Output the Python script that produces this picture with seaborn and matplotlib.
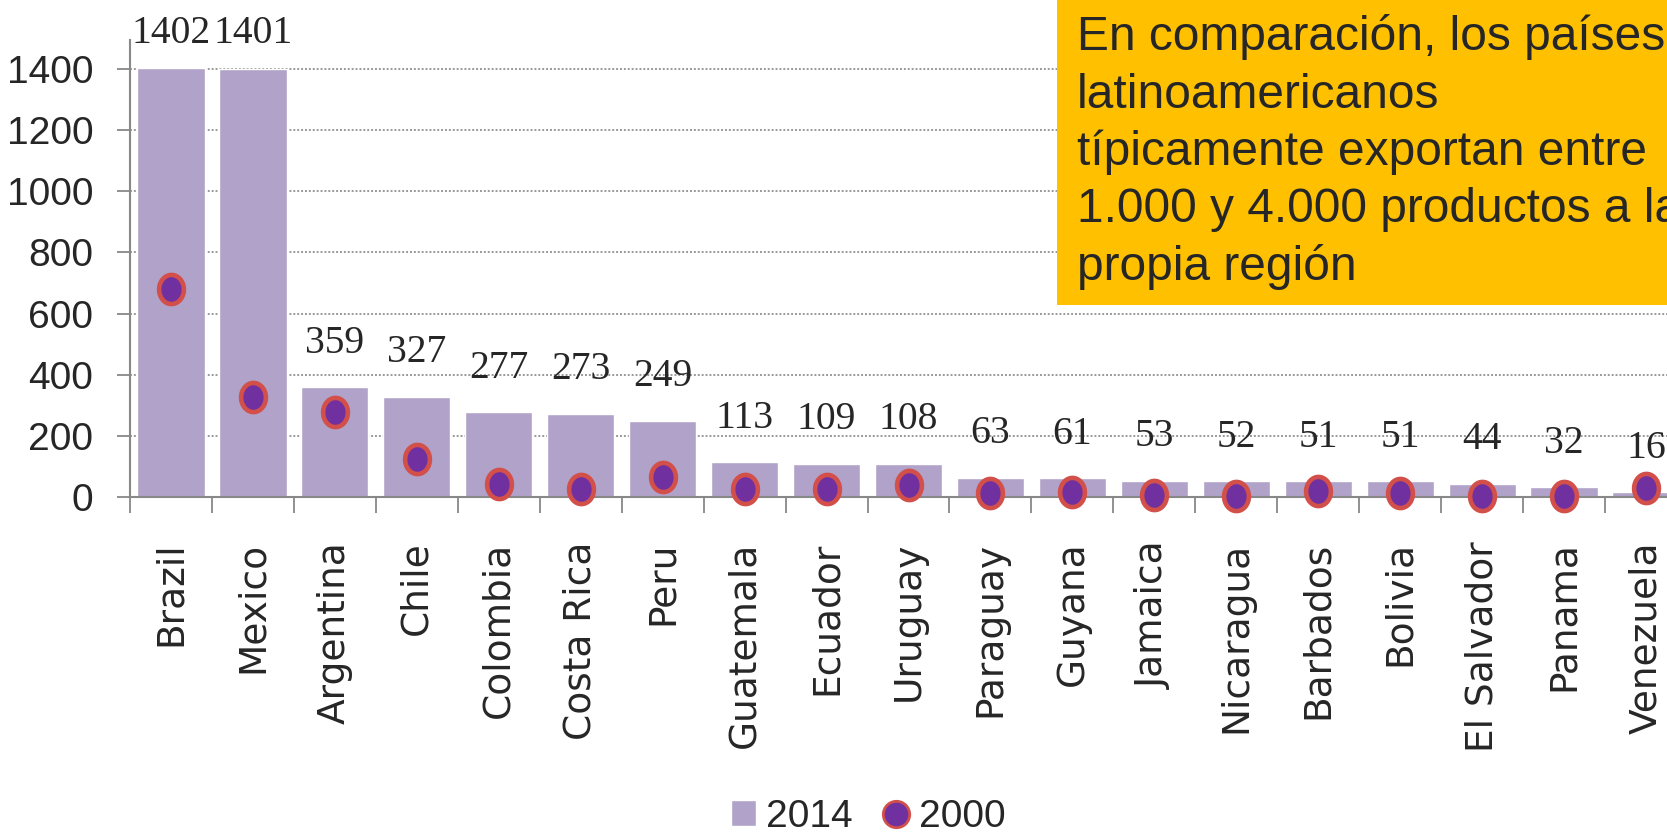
import numpy as np
import pandas as pd
import seaborn as sns
import matplotlib.pyplot as plt
from matplotlib.path import Path
from matplotlib.patches import Rectangle, Patch
from matplotlib.lines import Line2D

# number of products exported to the region, per country
countries = ['Brazil', 'Mexico', 'Argentina', 'Chile', 'Colombia', 'Costa Rica', 'Peru',
             'Guatemala', 'Ecuador', 'Uruguay', 'Paraguay', 'Guyana', 'Jamaica', 'Nicaragua',
             'Barbados', 'Bolivia', 'El Salvador', 'Panama', 'Venezuela']
products_2014 = [1402, 1401, 359, 327, 277, 273, 249, 113, 109, 108, 63, 61, 53, 52, 51, 51, 44, 32, 16]
products_2000 = [680, 327, 278, 124, 42, 26, 66, 26, 25, 40, 12, 17, 6, 4, 21, 14, 4, 2, 28]
y_ticks = [0, 200, 400, 600, 800, 1000, 1200, 1400]

note_lines = ['En comparación, los países',
              'latinoamericanos',
              'típicamente exportan entre',
              '1.000 y 4.000 productos a la',
              'propia región']

BAR_COLOR = '#b1a2c9'
DOT_COLOR = '#7030a0'
DOT_EDGE = '#d24f4a'
GRID_COLOR = '#999999'
AXIS_COLOR = '#888888'
NOTE_COLOR = '#ffc000'
NARROW = ['Liberation Sans', 'DejaVu Sans']

W, H = 1667, 835

sns.set_style('white')
plt.rcParams['font.family'] = ['DejaVu Sans']

df = pd.DataFrame({'country': countries, 'y2014': products_2014, 'y2000': products_2000})

fig = plt.figure(figsize=(W / 100, H / 100), dpi=100)
# plot area runs past the right edge, like the cropped original
ax = fig.add_axes([130 / W, 1 - 497 / H, 1557 / W, 457 / H])

ax.set_axisbelow(True)
ax.yaxis.grid(True, linestyle=(0, (1, 1)), color=GRID_COLOR, lw=1.4)

sns.barplot(data=df, x='country', y='y2014', color=BAR_COLOR, width=0.82,
            saturation=1, ax=ax)

# 2000 values as slightly tall dots
theta = np.linspace(0, 2 * np.pi, 80)
ellipse = Path(np.column_stack([0.85 * np.cos(theta), np.sin(theta)]), closed=True)
ax.scatter(np.arange(len(countries)), df['y2000'], marker=ellipse, s=440,
           c=DOT_COLOR, edgecolors=DOT_EDGE, linewidths=3.3, zorder=4, clip_on=False)

# labels of 2014 values
for i, v in enumerate(products_2014):
    ax.text(i, min(v + 113, 1485), str(v), ha='center', va='baseline',
            fontsize=28.5, family=['Liberation Serif', 'DejaVu Serif'], clip_on=False)

ax.set_xlim(-0.5, len(countries) - 0.5)
ax.set_ylim(0, 1495)
ax.set_yticks(y_ticks)
ax.set_xticks(np.arange(len(countries)))
ax.set_xticklabels(countries, rotation=90, fontsize=27)
ax.set_xticks(np.arange(len(countries) + 1) - 0.5, minor=True)
ax.set_xlabel('')
ax.set_ylabel('')

ax.tick_params(axis='x', which='major', length=0, pad=32)
ax.tick_params(axis='x', which='minor', length=11.5, width=1.3, color=AXIS_COLOR,
               direction='out', bottom=True)
ax.tick_params(axis='y', length=9.4, width=1.3, color=AXIS_COLOR, direction='out',
               left=True, pad=17)
for lbl in ax.get_yticklabels():
    lbl.set_family(NARROW)
    lbl.set_fontsize(28)

for side in ['top', 'right']:
    ax.spines[side].set_visible(False)
for side in ['left', 'bottom']:
    ax.spines[side].set_color(AXIS_COLOR)
    ax.spines[side].set_linewidth(1.5)

# orange note box in the top right corner
fig.add_artist(Rectangle((1057 / W, 1 - 305 / H), 1, 305 / H + 0.01,
                         transform=fig.transFigure, facecolor=NOTE_COLOR,
                         edgecolor='none', zorder=5))
for k, line in enumerate(note_lines):
    fig.text(1077 / W, 1 - (50 + 57.5 * k) / H, line, fontsize=34.5, va='baseline',
             family=['Liberation Sans', 'DejaVu Sans'], zorder=6)

handles = [Patch(facecolor=BAR_COLOR, label='2014'),
           Line2D([], [], marker='o', ls='none', markersize=19, markerfacecolor=DOT_COLOR,
                  markeredgecolor=DOT_EDGE, markeredgewidth=2, label='2000')]
fig.legend(handles=handles, loc='center', bbox_to_anchor=(868 / W, 1 - 817 / H), ncol=2,
           frameon=False, prop={'family': NARROW, 'size': 28},
           handlelength=0.65, handleheight=0.65, handletextpad=0.25, columnspacing=0.8)

fig.savefig('out.png', dpi=100)
